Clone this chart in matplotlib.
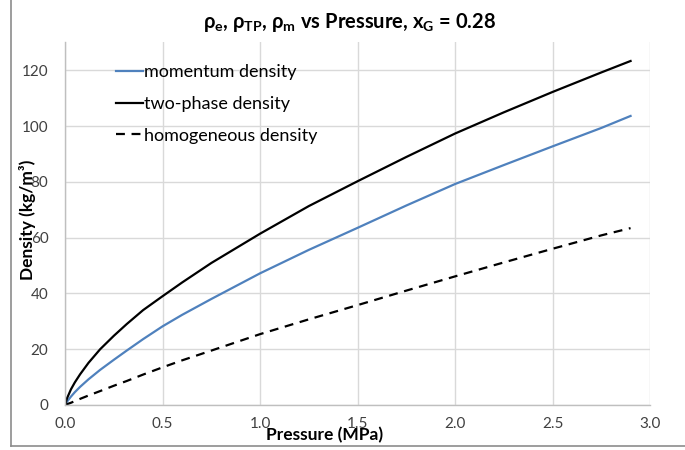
import matplotlib
matplotlib.use("Agg")
import matplotlib.pyplot as plt
from matplotlib.lines import Line2D

plt.rcParams['font.family'] = ['Lato', 'DejaVu Sans']
plt.rcParams['mathtext.fontset'] = 'custom'
plt.rcParams['mathtext.rm'] = 'Lato:bold'
plt.rcParams['mathtext.default'] = 'rm'

# values
pressure = [0, 0.01, 0.03, 0.05, 0.077, 0.12, 0.18, 0.25, 0.316, 0.4, 0.5, 0.6,
            0.75, 1.0, 1.25, 1.5, 1.75, 2.0, 2.25, 2.5, 2.75, 2.9]
two_phase = [0, 2.4, 5.6, 8.1, 11.0, 15.1, 20.0, 24.8, 29.0, 34.0, 39.0, 43.9,
             50.9, 61.4, 71.3, 80.2, 88.9, 97.3, 104.9, 112.2, 119.2, 123.3]
momentum = [0, 1.2, 3.0, 4.6, 6.5, 9.2, 12.6, 16.2, 19.5, 23.6, 28.2, 32.3,
            38.0, 47.2, 55.6, 63.5, 71.5, 79.2, 86.0, 92.7, 99.3, 103.6]
homogeneous = [0, 0.3, 0.8, 1.4, 2.2, 3.4, 5.0, 6.9, 8.6, 10.9, 13.5, 16.0,
               19.5, 25.4, 30.7, 35.8, 41.0, 46.1, 51.1, 56.0, 60.8, 63.4]

xticks = [0.0, 0.5, 1.0, 1.5, 2.0, 2.5, 3.0]
yticks = [0, 20, 40, 60, 80, 100, 120]

fig = plt.figure(figsize=(6.85, 4.5), dpi=100)
ax = fig.add_axes([0.095, 0.10, 0.854, 0.806])

ax.plot(pressure, momentum, color='#4f81bd', lw=1.6, label='momentum density')
ax.plot(pressure, two_phase, color='black', lw=1.6, label='two-phase density')
ax.plot(pressure, homogeneous, color='black', lw=1.6, ls=(0, (4, 3)), label='homogeneous density')

ax.set_xlim(0, 3.0)
ax.set_ylim(0, 130)
ax.set_xticks(xticks)
ax.set_xticklabels([f'{t:.1f}' for t in xticks])
ax.set_yticks(yticks)
ax.grid(True, color='#d9d9d9', lw=1.0)
ax.set_axisbelow(True)
for side in ['top', 'right']:
    ax.spines[side].set_visible(False)
for side in ['left', 'bottom']:
    ax.spines[side].set_color('#bfbfbf')
    ax.spines[side].set_linewidth(1.0)
ax.tick_params(length=0, labelsize=11, labelcolor='#404040')
ax.tick_params(axis='y', pad=12)
ax.tick_params(axis='x', pad=9)

fig.text(0.511, 0.951, 'ρ$_{e}$, ρ$_{TP}$, ρ$_{m}$ vs Pressure, x$_{G}$ = 0.28',
         ha='center', va='center', fontsize=14.5, fontweight='bold')
fig.text(0.474, 0.033, 'Pressure (MPa)', ha='center', va='center',
         fontsize=12.5, fontweight='bold')
fig.text(0.04, 0.511, 'Density (kg/m³)', ha='center', va='center',
         rotation=90, fontsize=12.5, fontweight='bold')

ax.legend(loc='upper left', bbox_to_anchor=(0.06, 0.985), frameon=False,
          fontsize=13, handlelength=1.45, handletextpad=0.1, labelspacing=0.88)

# outer chart border (left and bottom visible in the crop)
fig.add_artist(Line2D([0.016, 0.016], [0.009, 1.0], color='#8c8c8c', lw=1.2))
fig.add_artist(Line2D([0.016, 1.0], [0.009, 0.009], color='#8c8c8c', lw=1.2))

fig.savefig('out.png', dpi=100)
